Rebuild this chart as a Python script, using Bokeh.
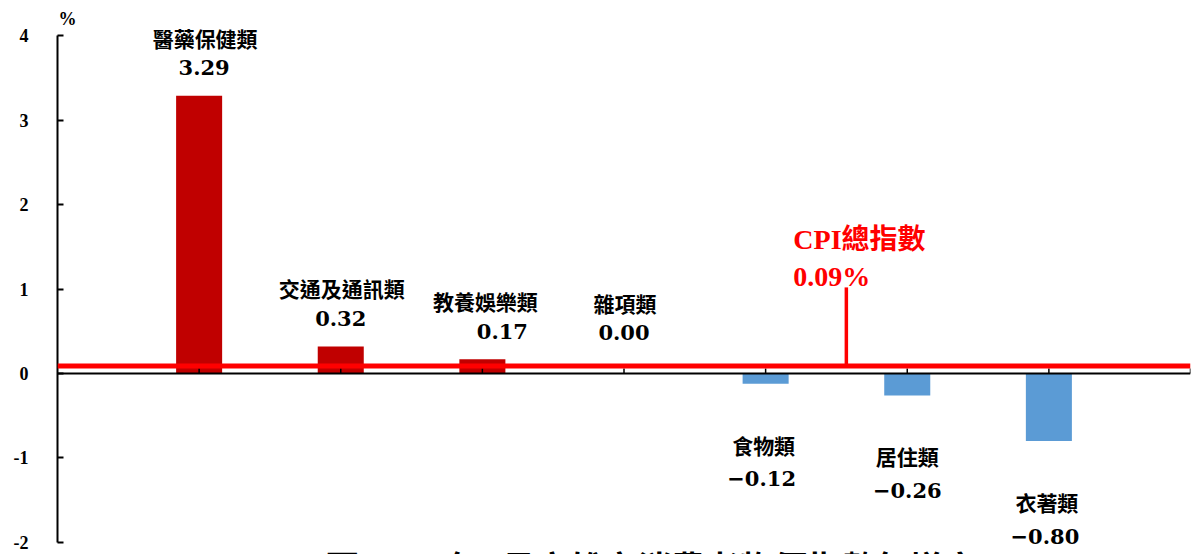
import math
from bokeh.plotting import figure
from bokeh.models import ColumnDataSource, Range1d, FixedTicker, Span
from bokeh.core.properties import value
from bokeh.embed import file_html
from bokeh.resources import INLINE

# ---- data ----
categories = ["醫藥保健類", "交通及通訊類", "教養娛樂類", "雜項類", "食物類", "居住類", "衣著類"]
changes = [3.29, 0.32, 0.17, 0.00, -0.12, -0.26, -0.80]
cpi_total = 0.09
cpi_label = "CPI總指數"
y_ticks = [-2, -1, 0, 1, 2, 3, 4]
y_unit = "%"
title_text = "圖2  112年7月高雄市消費者物價指數年增率"

# ---- layout constants (pixels) ----
W, H = 1192, 554
LEFT, RIGHT = 57, 2
ZERO_PX = 373          # vertical pixel of value 0
PX_PER_UNIT = 84.4     # pixels per 1 percentage point

# ---- derived ----
xs = list(range(1, len(categories) + 1))
colors = ["#C00000" if v >= 0 else "#5B9BD5" for v in changes]
value_text = [f"{v:.2f}".replace("-", "\u2212") for v in changes]

name_dy = [-58 if v >= 0 else 61 for v in changes]
val_dy = [-28 if v >= 0 else 95 for v in changes]
name_dx = [6, 1, 3, 1, -2, 0, -2]
val_dx = [5, 0, 20, 0, -4, 0, -4]
extra_dy = [0, 0, 0, -13, 0, 0, 0]
name_dy = [a + b for a, b in zip(name_dy, extra_dy)]
val_dy = [a + b for a, b in zip(val_dy, extra_dy)]

src = ColumnDataSource(dict(x=xs, top=changes, color=colors, name=categories,
                            vtext=value_text, name_dx=name_dx, name_dy=name_dy,
                            val_dx=val_dx, val_dy=val_dy))

n_slots = len(categories) + 1
y_top = ZERO_PX / PX_PER_UNIT
y_bot = -(H - ZERO_PX) / PX_PER_UNIT

p = figure(width=W, height=H, x_range=Range1d(0, n_slots), y_range=Range1d(y_bot, y_top),
           output_backend="svg", toolbar_location=None, x_axis_location=None,
           min_border_left=LEFT, min_border_right=RIGHT, min_border_top=0, min_border_bottom=0)
p.outline_line_color = None
p.grid.grid_line_color = None
p.background_fill_color = "white"

# y axis (line limited to -2..4)
ya = p.yaxis[0]
ya.bounds = (min(y_ticks), max(y_ticks))
ya.ticker = FixedTicker(ticks=y_ticks)
ya.major_label_overrides = {t: str(t) for t in y_ticks}
ya.major_tick_in = 6
ya.major_tick_out = 0
ya.minor_tick_line_color = None
ya.axis_line_width = 2
ya.major_tick_line_width = 2
ya.axis_line_color = "black"
ya.major_tick_line_color = "black"
ya.major_label_text_font = "Liberation Serif"
ya.major_label_text_font_style = "bold"
ya.major_label_text_font_size = "18px"
ya.major_label_text_color = "black"
ya.major_label_standoff = 29

# bars
p.vbar(x="x", top="top", bottom=0, width=0.325, fill_color="color", line_color=None, source=src)

# category axis at zero: line and upward ticks at categories
p.add_layout(Span(location=0, dimension="width", line_color="black", line_width=2))
p.ray(x=list(range(1, n_slots + 1)), y=0, length=5, length_units="screen",
      angle=math.pi / 2, line_color="black", line_width=1.5)

# CPI reference line
p.add_layout(Span(location=cpi_total, dimension="width", line_color="#FF0000", line_width=5))
cpi_x = 5.57
cpi_top = 1.02
p.segment(x0=[cpi_x], y0=[cpi_total], x1=[cpi_x], y1=[cpi_top], line_color="#FF0000", line_width=3.5)
p.text(x=[cpi_x, cpi_x], y=[cpi_top, cpi_top], text=[cpi_label, f"{cpi_total:.2f}%"],
       x_offset=-53, y_offset=[-48, -11], text_align="left", text_baseline="middle",
       text_color="#FF0000", text_font=value("'Liberation Serif', 'Noto Sans CJK TC'"),
       text_font_style="bold", text_font_size="28px")

# category labels
p.text(x="x", y="top", text="name", x_offset="name_dx", y_offset="name_dy",
       text_align="center", text_baseline="middle", text_color="black",
       text_font=value("Noto Sans CJK TC"), text_font_style="bold", text_font_size="21px", source=src)
p.text(x="x", y="top", text="vtext", x_offset="val_dx", y_offset="val_dy",
       text_align="center", text_baseline="middle", text_color="black",
       text_font=value("DejaVu Serif"), text_font_style="bold", text_font_size="21px", source=src)

# unit label above the y axis
p.text(x=[0], y=[max(y_ticks)], text=[y_unit], x_offset=1, y_offset=-17,
       text_align="left", text_baseline="middle", text_color="black",
       text_font=value("Liberation Serif"), text_font_style="bold", text_font_size="18px")

# chart title (only its top shows at the bottom edge, as in the reference)
p.text(x=[4.22], y=[min(y_ticks)], text=[title_text], y_offset=0,
       text_align="center", text_baseline="top", text_color="black",
       text_font=value("Noto Sans CJK TC"), text_font_style="bold", text_font_size="34px")

open("out.html", "w").write(file_html(p, INLINE))
